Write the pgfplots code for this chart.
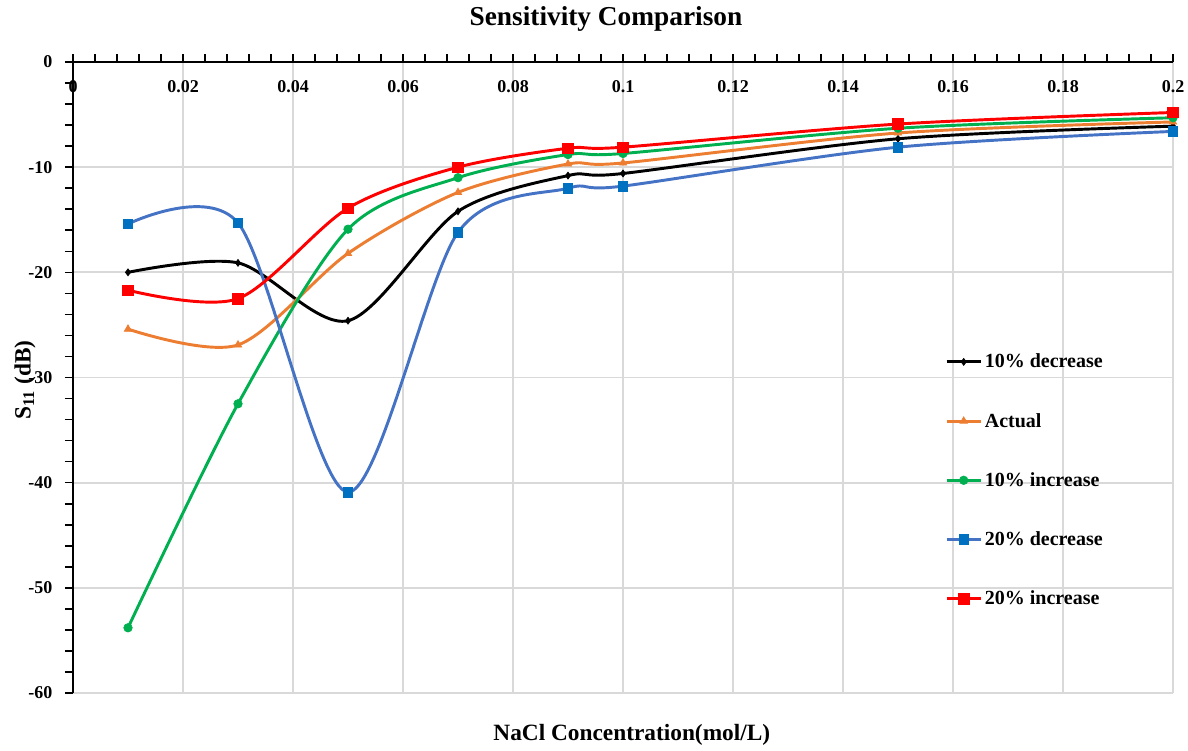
\documentclass[border=0pt]{standalone}
\usepackage{fontspec}
\setmainfont{Liberation Serif}
\usepackage{pgfplots}
\pgfplotsset{compat=1.18}
\definecolor{cOrange}{HTML}{ED7D31}
\definecolor{cGreen}{HTML}{00B050}
\definecolor{cBlueL}{HTML}{4472C4}
\definecolor{cBlueM}{HTML}{0070C0}
\definecolor{cRed}{HTML}{FF0000}
\definecolor{gridgray}{HTML}{D9D9D9}
\begin{document}
\begin{tikzpicture}
\useasboundingbox (-54.75pt,-42.75pt) rectangle (836.25pt,519.75pt);
\begin{axis}[
  at={(0,0)}, anchor=south west,
  scale only axis, width=825pt, height=473.25pt,
  xmin=0, xmax=0.2, ymin=-60, ymax=0,
  clip=false,
  axis x line=top, axis y line=left,
  x axis line style={-, line width=1.5pt},
  y axis line style={-, line width=1.5pt},
  xtick={0,0.02,0.04,0.06,0.08,0.1,0.12,0.14,0.16,0.18,0.2},
  ytick={-60,-50,-40,-30,-20,-10,0},
  minor x tick num=4, minor y tick num=4,
  grid=major, major grid style={line width=1.3pt, color=gridgray},
  tick align=outside, major tick length=6pt, minor tick length=6pt,
  every tick/.style={black, line width=1.2pt},
  scaled x ticks=false,
  xticklabel style={/pgf/number format/fixed, /pgf/number format/precision=2,
    /pgf/number format/assume math mode=true,
    font=\bfseries\fontsize{13.5}{15}\selectfont, anchor=center, yshift=-24.5pt},
  yticklabel style={/pgf/number format/assume math mode=true,
    font=\bfseries\fontsize{13.5}{15}\selectfont, anchor=east, xshift=-6pt},
  title={Sensitivity Comparison},
  title style={font=\bfseries\fontsize{20.5}{24}\selectfont, at={(0.4845,1.0713)}, anchor=center, yshift=-7.5pt},
  xlabel={NaCl Concentration(mol/L)},
  xlabel style={font=\bfseries\fontsize{17.5}{20}\selectfont, at={(0.508,-0.0666)}, anchor=center},
  ylabel={S\textsubscript{11} (dB)},
  ylabel style={font=\bfseries\fontsize{17.5}{20}\selectfont, at={(-0.0436,0.496)}, anchor=center},
  legend style={at={(0.7927,0.542)}, anchor=north west, draw=none, fill=none,
    inner sep=0pt, row sep=28.5pt, font=\bfseries\fontsize{15}{17}\selectfont,
    cells={anchor=west}},
  legend image code/.code={\draw[mark repeat=2,mark phase=2] plot coordinates {(0pt,0pt) (12.75pt,0pt) (25.5pt,0pt)};},
  every axis plot/.append style={line width=2.2pt, smooth, tension=0.5},
]
\addplot[black, mark=diamond*, mark size=2.6pt, mark options={solid, line width=0.5pt}] coordinates {
(0.01,-20.0)(0.03,-19.1)(0.05,-24.6)(0.07,-14.2)(0.09,-10.8)(0.1,-10.6)(0.15,-7.3)(0.2,-6.1)};
\addlegendentry{10\% decrease}
\addplot[cOrange, mark=triangle*, mark size=3.2pt, mark options={solid, line width=0.5pt}] coordinates {
(0.01,-25.4)(0.03,-26.9)(0.05,-18.2)(0.07,-12.4)(0.09,-9.7)(0.1,-9.6)(0.15,-6.75)(0.2,-5.7)};
\addlegendentry{Actual}
\addplot[cGreen, mark=*, mark size=3.2pt, mark options={solid, line width=0.5pt}] coordinates {
(0.01,-53.8)(0.03,-32.5)(0.05,-15.9)(0.07,-11.0)(0.09,-8.8)(0.1,-8.7)(0.15,-6.3)(0.2,-5.3)};
\addlegendentry{10\% increase}
\addplot[cBlueL, mark=square*, mark size=3.6pt, mark options={solid, line width=0.5pt, draw=cBlueM, fill=cBlueM}] coordinates {
(0.01,-15.4)(0.03,-15.3)(0.05,-40.9)(0.07,-16.2)(0.09,-12.0)(0.1,-11.8)(0.15,-8.1)(0.2,-6.6)};
\addlegendentry{20\% decrease}
\addplot[cRed, mark=square*, mark size=4pt, mark options={solid, line width=0.5pt}] coordinates {
(0.01,-21.7)(0.03,-22.5)(0.05,-13.9)(0.07,-10.0)(0.09,-8.2)(0.1,-8.1)(0.15,-5.9)(0.2,-4.8)};
\addlegendentry{20\% increase}
\end{axis}
\end{tikzpicture}
\end{document}
